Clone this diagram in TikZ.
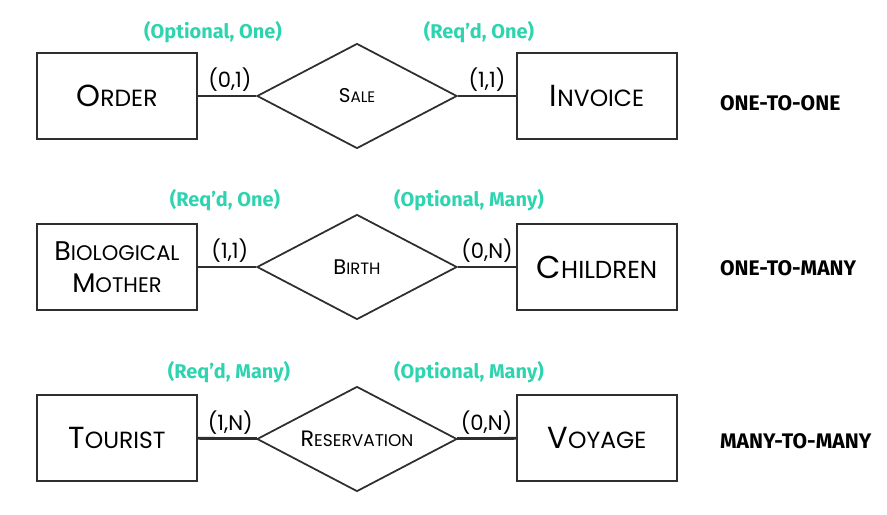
\documentclass[tikz,border=0pt]{standalone}
\usepackage{fontspec}
\setmainfont{Poppins}
\newfontfamily\tagfont{Fira Sans}
\usetikzlibrary{shapes.geometric}

\definecolor{tagteal}{HTML}{2ED3B0}
\definecolor{edgegray}{HTML}{2E2E2E}

% fake small caps: first letter big, rest smaller
\newcommand{\ercaps}[4]{{\fontsize{#1}{#1}\selectfont #3}{\fontsize{#2}{#2}\selectfont #4}}

\tikzset{
  entity/.style={draw=edgegray, line width=1.5pt, minimum width=4.8cm, minimum height=2.58cm,
    inner sep=0pt, align=center, font=\fontsize{20pt}{27pt}\selectfont},
  relation/.style={draw=edgegray, line width=1.5pt, diamond, aspect=1.9,
    minimum width=6cm, minimum height=3.15cm, inner sep=0pt},
  link/.style={draw=edgegray, line width=2.4pt},
  card/.style={above=-1pt, font=\fontsize{18pt}{18pt}\selectfont},
  tag/.style={text=tagteal, font=\tagfont\bfseries\fontsize{17pt}{17pt}\selectfont},
  kind/.style={anchor=west, font=\tagfont\bfseries\fontsize{18pt}{18pt}\selectfont}
}

\begin{document}
\begin{tikzpicture}[x=0.03cm, y=0.03cm]

    \useasboundingbox (0,0) rectangle (887,-515);

    % Uno a uno
    \node[entity] (order) at (117,-96) {\ercaps{26pt}{20pt}{O}{RDER}};
    \node[relation] (sale) at (357,-96) {\ercaps{17pt}{13pt}{S}{ALE}};
    \node[entity] (invoice) at (597,-96) {\ercaps{26pt}{20pt}{I}{NVOICE}};
    \draw[link] (order) -- (sale) node[card, pos=0.55] {(0,1)};
    \draw[link] (sale) -- (invoice) node[card, pos=0.5] {(1,1)};
    \node[tag] (saleleft) at (213,-32) {(Optional, One)};
    \node[tag] (saleright) at (479,-32) {(Req’d, One)};
    \node[kind] (onetoone) at (716,-103) {ONE-TO-ONE};

    % Uno a molti
    \node[entity] (mother) at (117,-267)
        {\ercaps{23pt}{18pt}{B}{IOLOGICAL}\\\ercaps{23pt}{18pt}{M}{OTHER}};
    \node[relation] (birth) at (357,-267) {\ercaps{18pt}{14pt}{B}{IRTH}};
    \node[entity] (children) at (597,-267) {\ercaps{27pt}{21pt}{C}{HILDREN}};
    \draw[link] (mother) -- (birth) node[card, pos=0.55] {(1,1)};
    \draw[link] (birth) -- (children) node[card, pos=0.5] {(0,N)};
    \node[tag] (birthleft) at (225,-200) {(Req’d, One)};
    \node[tag] (birthright) at (469,-200) {(Optional, Many)};
    \node[kind] (onetomany) at (716,-268) {ONE-TO-MANY};

    % Molti a molti
    \node[entity] (tourist) at (117,-438) {\ercaps{26pt}{20pt}{T}{OURIST}};
    \node[relation] (reservation) at (357,-439) {\ercaps{19pt}{14.5pt}{R}{ESERVATION}};
    \node[entity] (voyage) at (597,-438) {\ercaps{26pt}{20pt}{V}{OYAGE}};
    \draw[link] (tourist) -- (reservation) node[card, pos=0.55] {(1,N)};
    \draw[link] (reservation) -- (voyage) node[card, pos=0.5] {(0,N)};
    \node[tag] (resleft) at (229,-372) {(Req’d, Many)};
    \node[tag] (resright) at (469,-372) {(Optional, Many)};
    \node[kind] (manytomany) at (716,-441) {MANY-TO-MANY};

\end{tikzpicture}
\end{document}
